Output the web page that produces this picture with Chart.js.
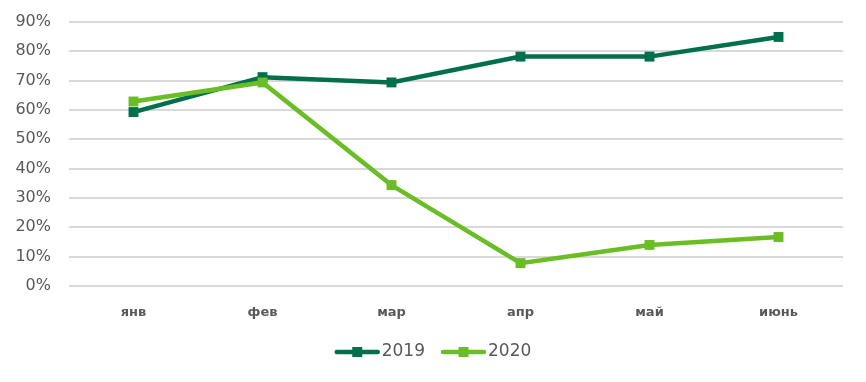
<!DOCTYPE html>
<html>
<head>
<meta charset="utf-8">
<script src="https://cdn.jsdelivr.net/npm/chart.js@4"></script>
<style>
html,body{margin:0;padding:0;background:#fff;}
#wrap{width:866px;height:382px;}
</style>
</head>
<body>
<div id="wrap"><canvas id="c" width="866" height="382"></canvas></div>
<script>
const categories = ["янв", "фев", "мар", "апр", "май", "июнь"];
const series2019 = [59.3, 71.2, 69.4, 78.2, 78.2, 84.9];
const series2020 = [62.9, 69.4, 34.4, 7.8, 14.0, 16.7];
const yTicks = [0, 10, 20, 30, 40, 50, 60, 70, 80, 90];

const DARK = "#006F4C";
const LIGHT = "#6ABD24";
const TEXT = "#595959";

const legendPlugin = {
  id: "customLegend",
  afterDraw(chart) {
    const ctx = chart.ctx;
    const items = chart.data.datasets.map(d => ({label: d.label, color: d.borderColor}));
    ctx.save();
    ctx.font = "17px 'DejaVu Sans'";
    const lineW = 45, gapText = 2, gapItem = 16;
    let total = 0;
    items.forEach((it, i) => {
      it.tw = ctx.measureText(it.label).width;
      total += lineW + gapText + it.tw + (i < items.length - 1 ? gapItem : 0);
    });
    let x = chart.width / 2 - total / 2;
    const y = 352;
    items.forEach(it => {
      ctx.strokeStyle = it.color;
      ctx.lineWidth = 4.5;
      ctx.lineCap = "round";
      ctx.beginPath();
      ctx.moveTo(x + 2, y);
      ctx.lineTo(x + lineW - 2, y);
      ctx.stroke();
      ctx.fillStyle = it.color;
      ctx.fillRect(x + lineW / 2 - 5, y - 5, 10, 10);
      ctx.fillStyle = TEXT;
      ctx.textBaseline = "middle";
      ctx.textAlign = "left";
      ctx.fillText(it.label, x + lineW + gapText, y);
      x += lineW + gapText + it.tw + gapItem;
    });
    ctx.restore();
  }
};

new Chart(document.getElementById("c"), {
  type: "line",
  data: {
    labels: categories,
    datasets: [
      {
        label: "2019", data: series2019, borderColor: DARK, backgroundColor: DARK,
        borderWidth: 4.5, pointStyle: "rect", pointRadius: 7, pointBorderWidth: 0,
        pointBackgroundColor: DARK, tension: 0, order: 1
      },
      {
        label: "2020", data: series2020, borderColor: LIGHT, backgroundColor: LIGHT,
        borderWidth: 4.5, pointStyle: "rect", pointRadius: 7, pointBorderWidth: 0,
        pointBackgroundColor: LIGHT, tension: 0, order: 0
      }
    ]
  },
  options: {
    responsive: false,
    animation: false,
    devicePixelRatio: 1,
    layout: { padding: { top: 22, right: 23, left: 0, bottom: 0 } },
    plugins: { legend: { display: false }, tooltip: { enabled: false } },
    scales: {
      x: {
        offset: true,
        grid: { display: false, drawTicks: false },
        border: { display: false },
        ticks: { color: TEXT, font: { family: "'DejaVu Sans'", size: 13, weight: "bold" }, padding: 19, maxRotation: 0 },
        afterFit(scale) { scale.height = 96; scale.paddingLeft = 0; scale.paddingRight = 0; }
      },
      y: {
        min: 0, max: 90,
        afterBuildTicks(scale) { scale.ticks = yTicks.map(v => ({ value: v })); },
        grid: { color: "#D9D9D9", lineWidth: 2, drawTicks: false },
        border: { display: false },
        ticks: { color: TEXT, font: { family: "'DejaVu Sans'", size: 16 }, padding: 18, callback: v => v + "%" },
        afterFit(scale) { scale.width = 69; scale.paddingTop = 0; scale.paddingBottom = 0; }
      }
    }
  },
  plugins: [legendPlugin]
});
</script>
</body>
</html>
